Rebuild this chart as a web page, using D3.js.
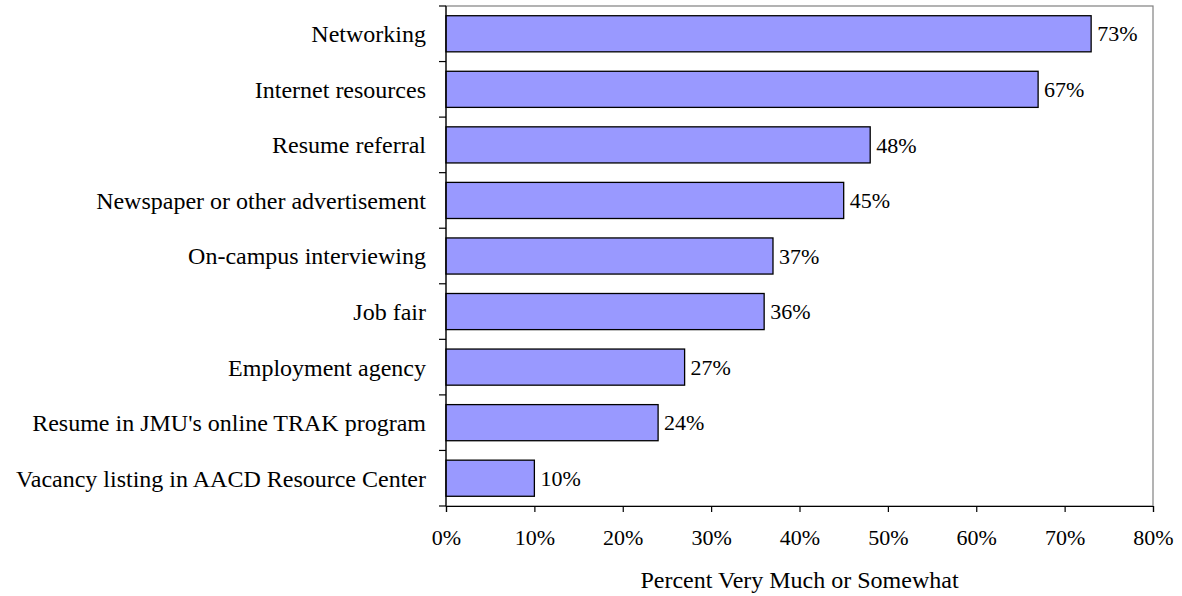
<!DOCTYPE html>
<html>
<head>
<meta charset="utf-8">
<title>Job search methods</title>
<style>
  body { margin: 0; background: #fff; }
  svg text { font-family: "Liberation Serif", "Times New Roman", serif; fill: #000; }
</style>
</head>
<body>
<div id="chart"></div>
<script src="https://d3js.org/d3.v7.min.js"></script>
<script>
  // data
  var categories = [
    "Networking",
    "Internet resources",
    "Resume referral",
    "Newspaper or other advertisement",
    "On-campus interviewing",
    "Job fair",
    "Employment agency",
    "Resume in JMU's online TRAK program",
    "Vacancy listing in AACD Resource Center"
  ];
  var values = [73, 67, 48, 45, 37, 36, 27, 24, 10];
  var xTicks = [0, 10, 20, 30, 40, 50, 60, 70, 80];
  var xTitle = "Percent Very Much or Somewhat";

  var W = 1182, H = 596;
  var margin = { top: 6, right: 29, bottom: 90, left: 446 };
  var width = W - margin.left - margin.right,
      height = H - margin.top - margin.bottom;

  var svg = d3.select("#chart").append("svg")
    .attr("width", W).attr("height", H);
  var g = svg.append("g")
    .attr("transform", "translate(" + margin.left + "," + margin.top + ")");

  var x = d3.scaleLinear().domain([0, 80]).range([0, width]);
  var y = d3.scaleBand().domain(categories).range([0, height]).paddingInner(0.35).paddingOuter(0.175);
  var yBand = d3.scaleBand().domain(categories).range([0, height]);

  // frame
  g.append("rect")
    .attr("x", 0).attr("y", 0).attr("width", width).attr("height", height)
    .attr("fill", "none").attr("stroke", "#808080").attr("stroke-width", 1.2);

  // bars
  g.selectAll("rect.bar").data(values).enter().append("rect")
    .attr("class", "bar")
    .attr("x", x(0))
    .attr("y", function (d, i) { return y(categories[i]); })
    .attr("width", function (d) { return x(d) - x(0); })
    .attr("height", y.bandwidth())
    .attr("fill", "#9999FF")
    .attr("stroke", "#000")
    .attr("stroke-width", 1.3);

  // value labels
  g.selectAll("text.val").data(values).enter().append("text")
    .attr("class", "val")
    .attr("x", function (d) { return x(d) + 6; })
    .attr("y", function (d, i) { return y(categories[i]) + y.bandwidth() / 2; })
    .attr("dy", "0.35em")
    .style("font-size", "22px")
    .text(function (d) { return d + "%"; });

  // y axis: ticks at band boundaries, labels at band centres
  var yAxis = g.append("g");
  yAxis.append("line").attr("x1", 0).attr("x2", 0).attr("y1", 0).attr("y2", height)
    .attr("stroke", "#000").attr("stroke-width", 1.2);
  var bounds = categories.map(function (c) { return yBand(c); }).concat([height]);
  yAxis.selectAll("line.tick").data(bounds).enter().append("line")
    .attr("class", "tick")
    .attr("x1", -7).attr("x2", 0)
    .attr("y1", function (d) { return d; }).attr("y2", function (d) { return d; })
    .attr("stroke", "#000").attr("stroke-width", 1.2);
  yAxis.selectAll("text").data(categories).enter().append("text")
    .attr("x", -20)
    .attr("y", function (d) { return yBand(d) + yBand.bandwidth() / 2; })
    .attr("dy", "0.35em")
    .attr("text-anchor", "end")
    .style("font-size", "24px")
    .text(function (d) { return d; });

  // x axis
  var xAxis = g.append("g")
    .attr("transform", "translate(0," + height + ")")
    .call(d3.axisBottom(x).tickValues(xTicks).tickSize(6).tickPadding(17)
      .tickFormat(function (d) { return d + "%"; }));
  xAxis.select(".domain").attr("stroke", "#000").attr("stroke-width", 1.2);
  xAxis.selectAll(".tick line").attr("stroke", "#000").attr("stroke-width", 1.2);
  xAxis.selectAll(".tick text")
    .style("font-size", "22px")
    .style("font-family", "'Liberation Serif', 'Times New Roman', serif");

  g.append("text")
    .attr("x", width / 2).attr("y", height + 74)
    .attr("dy", "0.35em")
    .attr("text-anchor", "middle")
    .style("font-size", "24px")
    .text(xTitle);
</script>
</body>
</html>
